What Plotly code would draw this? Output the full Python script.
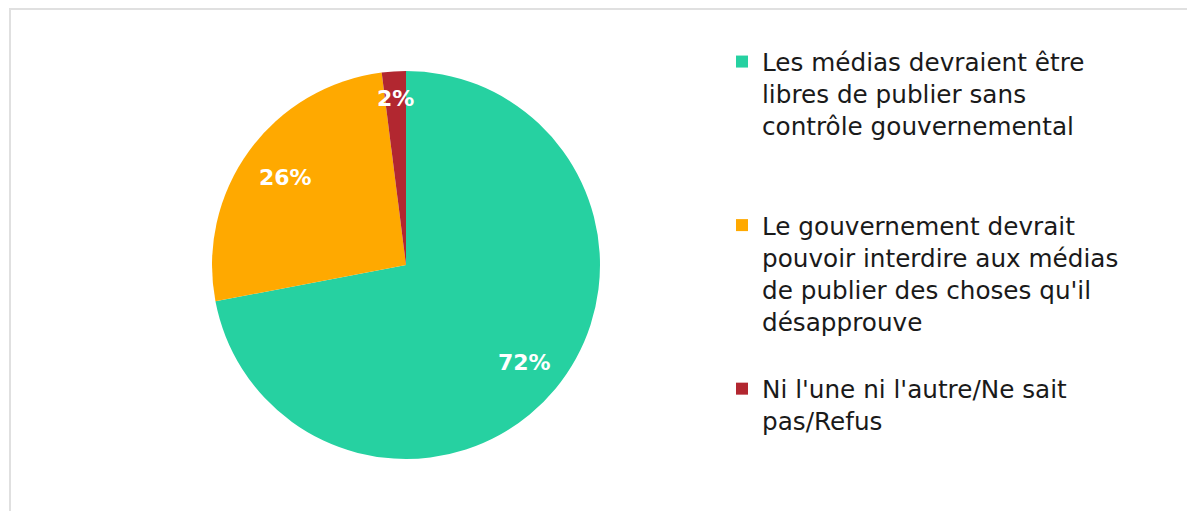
import math
import plotly.graph_objects as go

labels = [
    "Les médias devraient être<br>libres de publier sans<br>contrôle gouvernemental",
    "Le gouvernement devrait<br>pouvoir interdire aux médias<br>de publier des choses qu'il<br>désapprouve",
    "Ni l'une ni l'autre/Ne sait<br>pas/Refus",
]
values = [72, 26, 2]
colors = ["#26D1A1", "#FFA900", "#B22730"]
label_radius = [0.79, 0.77, 0.86]  # fraction of pie radius for data labels

W, H = 1187, 511
cx, cy, r = 406, 265, 194
LEGEND_LINES = 5

def pad(txt, last):
    if last:
        return txt
    n = txt.count("<br>") + 1
    return txt + "<br>&nbsp;" * (LEGEND_LINES - n)

fig = go.Figure(go.Pie(
    labels=[pad(l, i == len(labels) - 1) for i, l in enumerate(labels)],
    values=values,
    marker=dict(colors=colors, line=dict(width=0)),
    sort=False,
    direction="clockwise",
    rotation=0,
    textinfo="none",
    domain=dict(x=[(cx - r) / W, (cx + r) / W], y=[(H - cy - r) / H, (H - cy + r) / H]),
    hovertemplate="%{value}%<extra></extra>",
))

total = sum(values)
annotations = []
cum = 0
for v, rf in zip(values, label_radius):
    mid = (cum + v / 2) / total * 2 * math.pi
    cum += v
    px = cx + rf * r * math.sin(mid)
    py = cy - rf * r * math.cos(mid)
    annotations.append(dict(
        x=px / W, y=1 - py / H, xref="paper", yref="paper",
        xanchor="center", yanchor="middle",
        text=f"{v}%", showarrow=False,
        font=dict(family="DejaVu Sans", size=22, color="white", weight="bold"),
    ))

fig.update_layout(
    width=W, height=H,
    margin=dict(l=0, r=0, t=0, b=0),
    paper_bgcolor="white",
    font=dict(family="DejaVu Sans", color="#1A1A1A"),
    legend=dict(
        x=722 / W, y=1 - 39 / H, xanchor="left", yanchor="top",
        font=dict(family="DejaVu Sans", size=24.7, color="#1A1A1A"),
        itemsizing="constant", valign="top", itemwidth=30,
        bgcolor="rgba(0,0,0,0)",
    ),
    annotations=annotations,
    shapes=[dict(type="rect", xref="paper", yref="paper",
                 x0=10 / W, x1=1.01, y0=-0.01, y1=1 - 9 / H,
                 line=dict(color="#E0E0E0", width=2))],
)

fig.write_html("out.html")
